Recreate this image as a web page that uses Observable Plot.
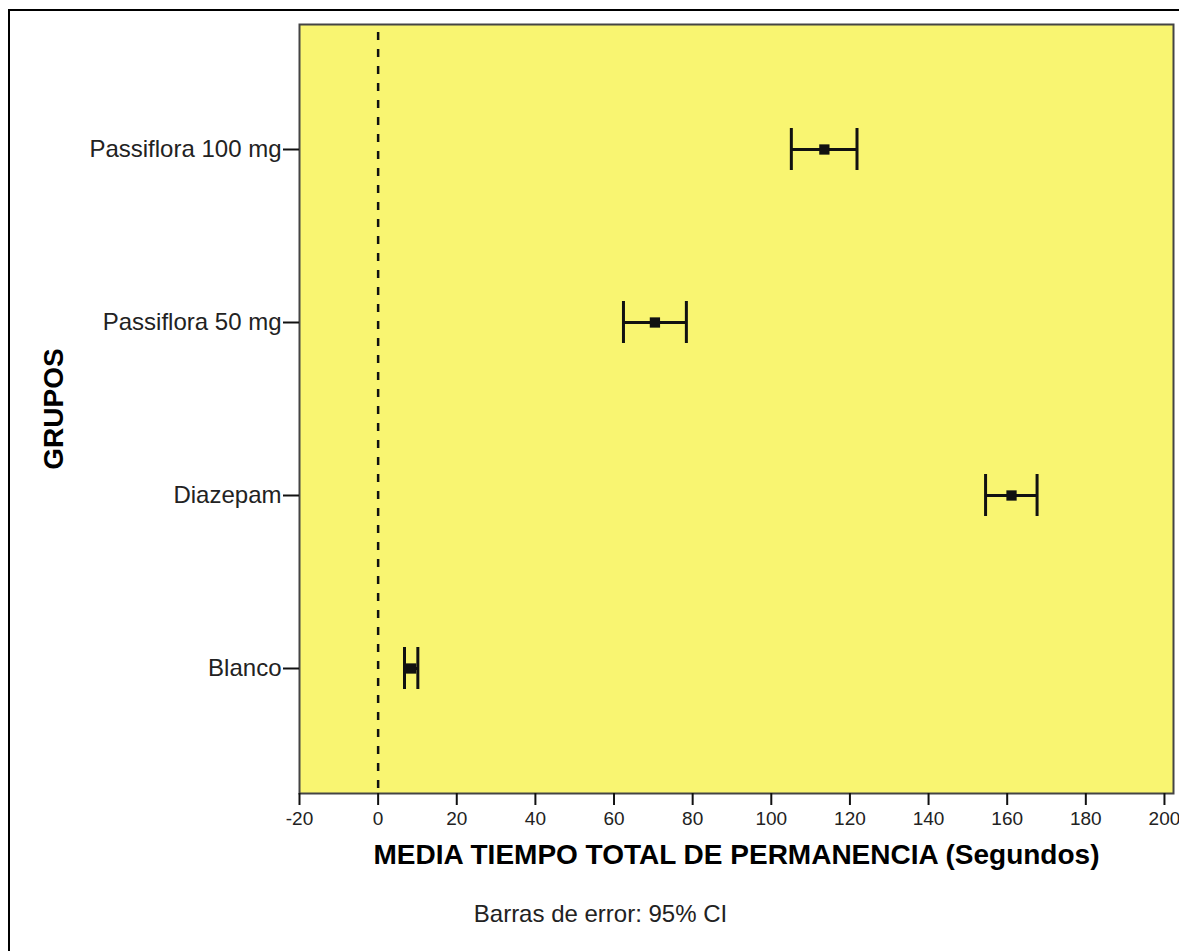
<!DOCTYPE html>
<html><head><meta charset="utf-8">
<script src="https://cdn.jsdelivr.net/npm/d3@7"></script>
<script src="https://cdn.jsdelivr.net/npm/@observablehq/plot@0.6"></script>
<style>
html,body{margin:0;padding:0;background:#fff;}
#wrap{position:relative;width:1179px;height:951px;overflow:hidden;background:#fff;}
#wrap svg{position:absolute;left:0;top:0;}
#border{position:absolute;left:8px;top:9px;width:1200px;height:1000px;border:2px solid #000;box-sizing:border-box;pointer-events:none;z-index:2;}
</style></head><body><div id="wrap"><div id="border"></div></div>
<script>
const groups = ["Passiflora 100 mg", "Passiflora 50 mg", "Diazepam", "Blanco"];
const means = [113.5, 70.4, 161.1, 8.4];
const lower = [105.1, 62.4, 154.5, 6.7];
const upper = [121.8, 78.4, 167.6, 10.1];
const xTicks = [-20, 0, 20, 40, 60, 80, 100, 120, 140, 160, 180, 200];
const xLabel = "MEDIA TIEMPO TOTAL DE PERMANENCIA (Segundos)";
const yLabel = "GRUPOS";
const caption = "Barras de error: 95% CI";

const data = groups.map((g, i) => ({group: g, mean: means[i], lo: lower[i], hi: upper[i]}));

const chart = Plot.plot({
  width: 1179,
  height: 951,
  marginLeft: 299,
  marginTop: 24,
  marginRight: 6,
  marginBottom: 158,
  style: {fontFamily: "'Liberation Sans', Arial, sans-serif", background: "transparent", color: "#111"},
  x: {domain: [-20, 202.3]},
  y: {type: "point", domain: groups, padding: 0.72},
  marks: [
    Plot.frame({fill: "#f9f571"}),
    Plot.ruleX([0], {stroke: "#111", strokeWidth: 2.5, strokeDasharray: "8,9", insetTop: 8}),
    Plot.ruleY(data, {y: "group", x1: "lo", x2: "hi", stroke: "#111", strokeWidth: 3}),
    Plot.ruleX(data, {x: "lo", y1: "group", y2: "group", stroke: "#111", strokeWidth: 3, insetTop: -21, insetBottom: -21}),
    Plot.ruleX(data, {x: "hi", y1: "group", y2: "group", stroke: "#111", strokeWidth: 3, insetTop: -21, insetBottom: -21}),
    Plot.dot(data, {x: "mean", y: "group", symbol: "square", r: 5.8, fill: "#111", stroke: "none"}),
    Plot.frame({stroke: "#444", strokeWidth: 2}),
    Plot.axisX({ticks: xTicks, tickFormat: d => String(d), tickSize: 12, tickPadding: 6, fontSize: 19, strokeWidth: 2, fill: "#222", label: null}),
    Plot.axisY({tickSize: 16, tickPadding: 2, fontSize: 24, strokeWidth: 2, fill: "#222", label: null}),
    Plot.text([xLabel], {frameAnchor: "bottom", dy: 70, fontSize: 28, fontWeight: "bold", fill: "#000"}),
    Plot.text([yLabel], {frameAnchor: "left", textAnchor: "middle", dx: -245, rotate: -90, fontSize: 28, fontWeight: "bold", fill: "#000"}),
    Plot.text([caption], {frameAnchor: "bottom", dx: -136, dy: 128, fontSize: 24, fill: "#222"})
  ]
});
document.getElementById("wrap").appendChild(chart);
</script>
</body></html>
